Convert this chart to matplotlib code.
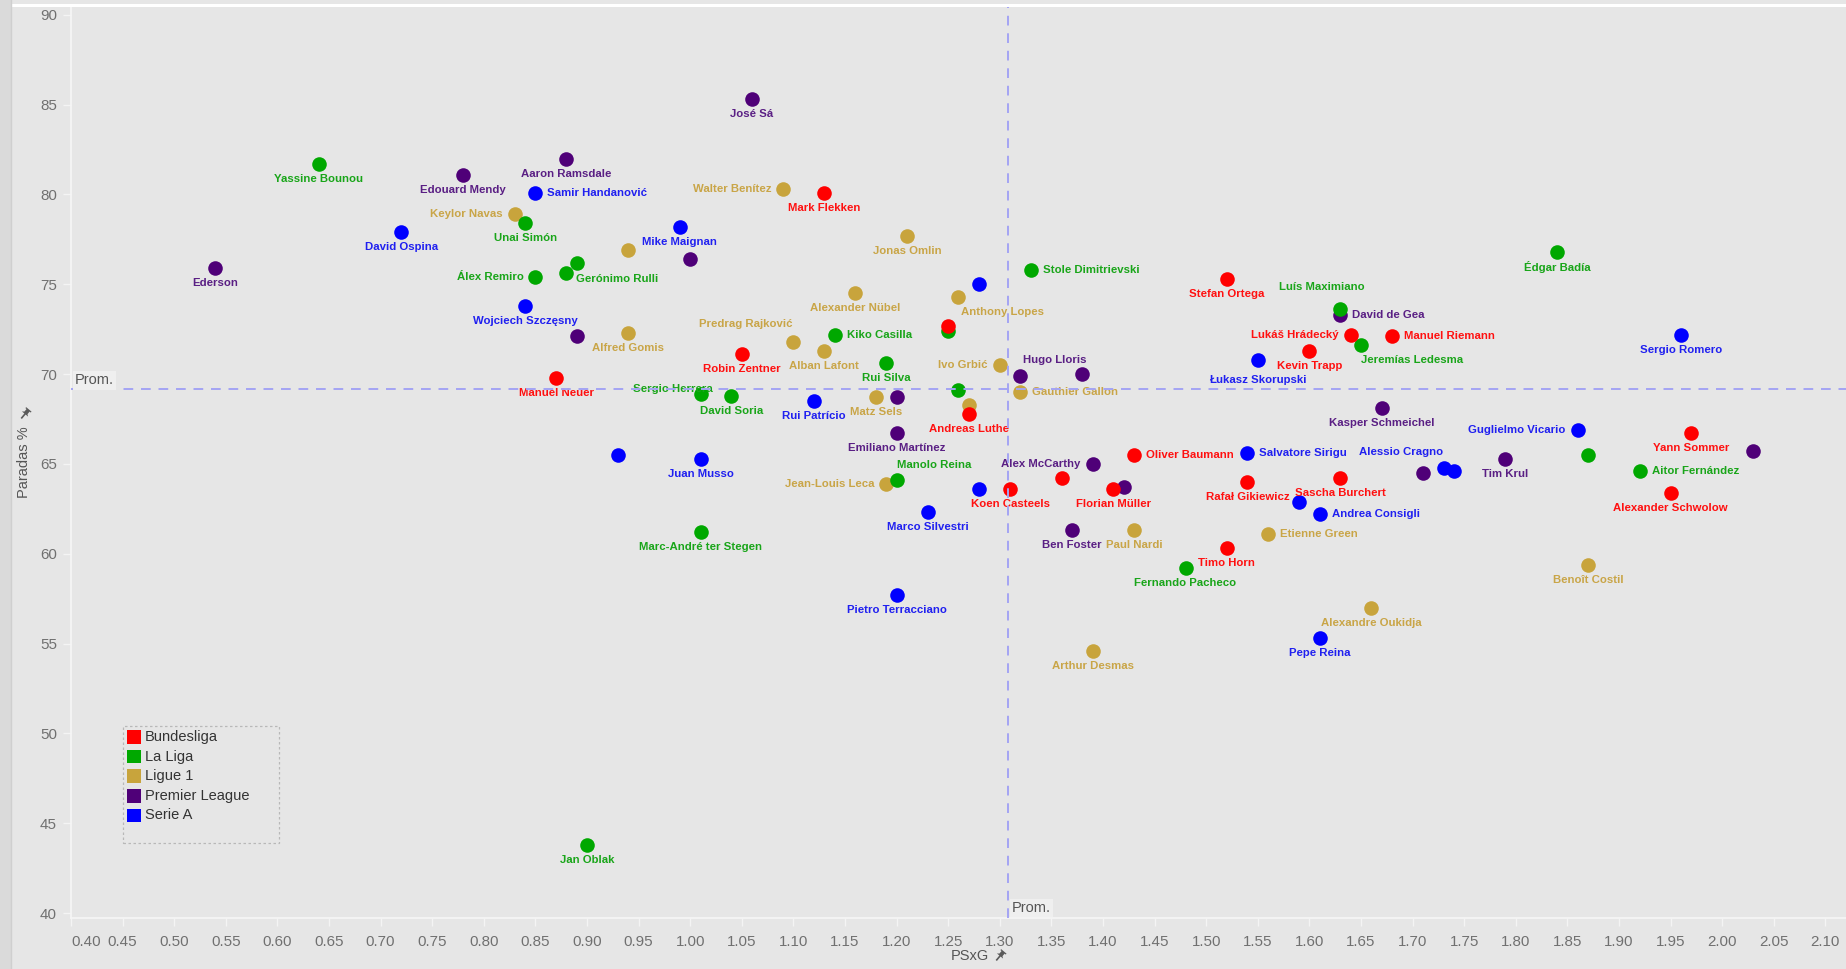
import matplotlib
matplotlib.use("Agg")
import matplotlib.pyplot as plt
from matplotlib import font_manager
from matplotlib.patches import Rectangle, Polygon
from matplotlib.lines import Line2D
import numpy as np

# ---- data (PSxG, saves %) ----
leagues = ["Bundesliga", "La Liga", "Ligue 1", "Premier League", "Serie A"]

bundesliga_names = ["Mark Flekken", "Stefan Ortega", "Lukáš Hrádecký", "Manuel Riemann",
                    "Kevin Trapp", "Robin Zentner", "Manuel Neuer", "Andreas Luthe",
                    "Oliver Baumann", "Koen Casteels", "Florian Müller", "Rafał Gikiewicz",
                    "Sascha Burchert", "Timo Horn", "Yann Sommer", "Alexander Schwolow", "", ""]
bundesliga_psxg = [1.13, 1.52, 1.64, 1.68, 1.60, 1.05, 0.87, 1.27, 1.43, 1.31, 1.41, 1.54,
                   1.63, 1.52, 1.97, 1.95, 1.25, 1.36]
bundesliga_saves = [80.1, 75.3, 72.2, 72.1, 71.3, 71.1, 69.8, 67.8, 65.5, 63.6, 63.6, 64.0,
                    64.2, 60.3, 66.7, 63.4, 72.7, 64.2]

laliga_names = ["Yassine Bounou", "Unai Simón", "Álex Remiro", "Gerónimo Rulli", "",
                "Stole Dimitrievski", "Luís Maximiano", "Jeremías Ledesma", "Édgar Badía",
                "Kiko Casilla", "", "Rui Silva", "Sergio Herrera", "David Soria", "",
                "Manolo Reina", "Marc-André ter Stegen", "Fernando Pacheco", "Aitor Fernández",
                "", "Jan Oblak"]
laliga_psxg = [0.64, 0.84, 0.85, 0.88, 0.89, 1.33, 1.63, 1.65, 1.84, 1.14, 1.25, 1.19, 1.01,
               1.04, 1.26, 1.20, 1.01, 1.48, 1.92, 1.87, 0.90]
laliga_saves = [81.7, 78.4, 75.4, 75.6, 76.2, 75.8, 73.6, 71.6, 76.8, 72.2, 72.4, 70.6, 68.9,
                68.8, 69.1, 64.1, 61.2, 59.2, 64.6, 65.5, 43.8]

ligue1_names = ["Keylor Navas", "Walter Benítez", "Jonas Omlin", "", "Alexander Nübel",
                "Anthony Lopes", "Alfred Gomis", "Predrag Rajković", "Alban Lafont", "Ivo Grbić",
                "Gauthier Gallon", "Matz Sels", "", "Jean-Louis Leca", "Paul Nardi",
                "Etienne Green", "Arthur Desmas", "Alexandre Oukidja", "Benoît Costil"]
ligue1_psxg = [0.83, 1.09, 1.21, 0.94, 1.16, 1.26, 0.94, 1.10, 1.13, 1.30, 1.32, 1.18, 1.27,
               1.19, 1.43, 1.56, 1.39, 1.66, 1.87]
ligue1_saves = [78.9, 80.3, 77.7, 76.9, 74.5, 74.3, 72.3, 71.8, 71.3, 70.5, 69.0, 68.7, 68.3,
                63.9, 61.3, 61.1, 54.6, 57.0, 59.4]

premier_names = ["José Sá", "Aaron Ramsdale", "Edouard Mendy", "Ederson", "", "",
                 "Hugo Lloris", "", "", "Emiliano Martínez", "Alex McCarthy", "", "Ben Foster",
                 "David de Gea", "Kasper Schmeichel", "Tim Krul", "", ""]
premier_psxg = [1.06, 0.88, 0.78, 0.54, 1.00, 0.89, 1.38, 1.32, 1.20, 1.20, 1.39, 1.42, 1.37,
                1.63, 1.67, 1.79, 1.71, 2.03]
premier_saves = [85.3, 82.0, 81.1, 75.9, 76.4, 72.1, 70.0, 69.9, 68.7, 66.7, 65.0, 63.7, 61.3,
                 73.3, 68.1, 65.3, 64.5, 65.7]

seriea_names = ["Samir Handanović", "David Ospina", "Mike Maignan", "Wojciech Szczęsny", "",
                "Łukasz Skorupski", "Sergio Romero", "Rui Patrício", "", "Juan Musso", "",
                "Marco Silvestri", "Pietro Terracciano", "Salvatore Sirigu", "Alessio Cragno", "",
                "Guglielmo Vicario", "", "Andrea Consigli", "Pepe Reina"]
seriea_psxg = [0.85, 0.72, 0.99, 0.84, 1.28, 1.55, 1.96, 1.12, 0.93, 1.01, 1.28, 1.23, 1.20,
               1.54, 1.73, 1.74, 1.86, 1.59, 1.61, 1.61]
seriea_saves = [80.1, 77.9, 78.2, 73.8, 75.0, 70.8, 72.2, 68.5, 65.5, 65.3, 63.6, 62.3, 57.7,
                65.6, 64.8, 64.6, 66.9, 62.9, 62.2, 55.3]

avg_psxg = 1.308
avg_saves = 69.15

# ---- styling ----
W, H = 1846, 969
point_colors = {"Bundesliga": "#ff0000", "La Liga": "#00a800", "Ligue 1": "#c8a43c",
                "Premier League": "#4f0078", "Serie A": "#0000ff"}
text_colors = {"Bundesliga": "#ff1010", "La Liga": "#19a519", "Ligue 1": "#c9a547",
               "Premier League": "#5a1f84", "Serie A": "#2020f0"}

# label placement (pixel offsets); default is centred below the point
left = ["Keylor Navas", "Walter Benítez", "Álex Remiro", "Lukáš Hrádecký", "Ivo Grbić",
        "Jean-Louis Leca", "Alex McCarthy", "Guglielmo Vicario"]
right = ["Samir Handanović", "Stole Dimitrievski", "Kiko Casilla", "Manuel Riemann",
         "David de Gea", "Gauthier Gallon", "Oliver Baumann", "Salvatore Sirigu",
         "Andrea Consigli", "Etienne Green", "Aitor Fernández"]
special = {"Gerónimo Rulli": (10, -6, "left"), "Jeremías Ledesma": (0, -15, "left"),
           "Sergio Herrera": (-28, 5, "center"), "Manolo Reina": (38, 15, "center"),
           "Alessio Cragno": (-42, 16, "center"), "Hugo Lloris": (-28, 14, "center"),
           "Luís Maximiano": (-19, 22, "center"), "Predrag Rajković": (-48, 18, "center"),
           "Anthony Lopes": (44, -15, "center"), "Łukasz Skorupski": (0, -20, "center")}

try:
    font_manager.findfont("Liberation Sans Narrow", fallback_to_default=False)
    lab_font, lab_size = "Liberation Sans Narrow", 9.6
except ValueError:
    lab_font, lab_size = "Liberation Sans", 8.2

plt.rcParams["font.family"] = ["Liberation Sans", "DejaVu Sans"]

fig = plt.figure(figsize=(W / 100, H / 100), dpi=100, facecolor="#e6e6e6")
ax = fig.add_axes([71 / W, 1 - 918 / H, 1 - 71 / W, (918 - 6.5) / H])
ax.set_facecolor("#e6e6e6")

series = [
    ("Premier League", premier_names, premier_psxg, premier_saves),
    ("Ligue 1", ligue1_names, ligue1_psxg, ligue1_saves),
    ("La Liga", laliga_names, laliga_psxg, laliga_saves),
    ("Serie A", seriea_names, seriea_psxg, seriea_saves),
    ("Bundesliga", bundesliga_names, bundesliga_psxg, bundesliga_saves),
]

for lg, names, xs, ys in series:
    ax.scatter(xs, ys, s=110, color=point_colors[lg], linewidths=0, zorder=3)
    for n, x, y in zip(names, xs, ys):
        if not n:
            continue
        if n in special:
            dx, dy, ha = special[n]
        elif n in left:
            dx, dy, ha = -12, 0, "right"
        elif n in right:
            dx, dy, ha = 12, 0, "left"
        else:
            dx, dy, ha = 0, -15, "center"
        ax.annotate(n, (x, y), xytext=(dx, dy), textcoords="offset pixels",
                    ha=ha, va="center", fontsize=lab_size, fontweight="bold",
                    family=[lab_font, "DejaVu Sans"], color=text_colors[lg], zorder=4)

# reference lines
ref_col = "#a4a4f4"
ax.axvline(avg_psxg, color=ref_col, lw=1.4, ls=(0, (5, 4)), zorder=6)
ax.axhline(avg_saves, color=ref_col, lw=1.4, ls=(0, (5, 4)), zorder=6)
ax.annotate("Prom.", (0.40, avg_saves), xytext=(4, 9), textcoords="offset pixels",
            ha="left", va="center", fontsize=10.5, color="#555555", zorder=7,
            bbox=dict(boxstyle="square,pad=0.15", fc="#efefef", ec="none"))
ax.annotate("Prom.", (avg_psxg, 39.73), xytext=(4, 10), textcoords="offset pixels",
            ha="left", va="center", fontsize=10.5, color="#555555", zorder=7,
            bbox=dict(boxstyle="square,pad=0.15", fc="#efefef", ec="none"))

ax.set_xlim(0.40, 2.12)
ax.set_ylim(39.73, 90.46)
ax.set_xticks(np.arange(0.40, 2.101, 0.05))
ax.set_xticklabels([f"{v:.2f}" for v in np.arange(0.40, 2.101, 0.05)])
ax.set_yticks(range(40, 91, 5))
ax.tick_params(colors="#f4f4f4", labelcolor="#707070", labelsize=10.9, length=6, width=1,
               pad=4)
ax.tick_params(axis="x", pad=6)
ax.get_xticklabels()[0].set_horizontalalignment("left")
for side in ["top", "right"]:
    ax.spines[side].set_visible(False)
for side in ["left", "bottom"]:
    ax.spines[side].set_color("#f6f6f6")
    ax.spines[side].set_linewidth(1.2)


def fx(px):
    return px / W


def fy(py):
    return 1 - py / H


# axis titles
fig.text(fx(970), fy(956), "PSxG", ha="center", va="center", fontsize=10.5, color="#555555")
fig.text(fx(24.5), fy(462), "Paradas %", rotation=90, ha="center", va="center",
         fontsize=10.5, color="#555555")


def draw_pin(cx, cy):
    ang = np.deg2rad(-40)
    pts = np.array([(-3.5, 6), (3.5, 6), (3.5, 4.8), (2, 4.8), (2, 1.5), (4, 0), (-4, 0),
                    (-2, 1.5), (-2, 4.8), (-3.5, 4.8)])
    rot = np.array([[np.cos(ang), -np.sin(ang)], [np.sin(ang), np.cos(ang)]])
    p = pts @ rot.T
    fig.add_artist(Polygon([(fx(cx + a), fy(cy - b)) for a, b in p], closed=True,
                           transform=fig.transFigure, fc="#5a5a5a", ec="none"))
    n = np.array([(0, 0), (0, -5)]) @ rot.T
    fig.add_artist(Line2D([fx(cx + a) for a, b in n], [fy(cy - b) for a, b in n],
                          transform=fig.transFigure, color="#5a5a5a", lw=1.2))


draw_pin(1000, 956)
draw_pin(25, 414)

# legend
fig.add_artist(Rectangle((fx(123.5), fy(843)), (279 - 123.5) / W, (843 - 726) / H,
                         transform=fig.transFigure, fc="none", ec="#b8b8b8", lw=0.9,
                         ls=(0, (2, 2))))
for i, lg in enumerate(leagues):
    yc = 737 + i * 19.6
    fig.add_artist(Rectangle((fx(126.5), fy(yc + 6.8)), 14 / W, 13.6 / H,
                             transform=fig.transFigure, fc=point_colors[lg], ec="none"))
    fig.text(fx(145), fy(yc), lg, ha="left", va="center", fontsize=10.5, color="#333333")

# frame details: top white line and left border strip
fig.add_artist(Rectangle((fx(11), fy(6.7)), 1, 2.7 / H, transform=fig.transFigure,
                         fc="white", ec="none"))
fig.add_artist(Rectangle((0, 0), 11 / W, 1, transform=fig.transFigure, fc="#dadada",
                         ec="none"))
fig.add_artist(Line2D([fx(11), fx(11)], [0, 1], transform=fig.transFigure, color="#cfcfcf",
                      lw=1))

fig.savefig("out.png", dpi=100, facecolor=fig.get_facecolor())
